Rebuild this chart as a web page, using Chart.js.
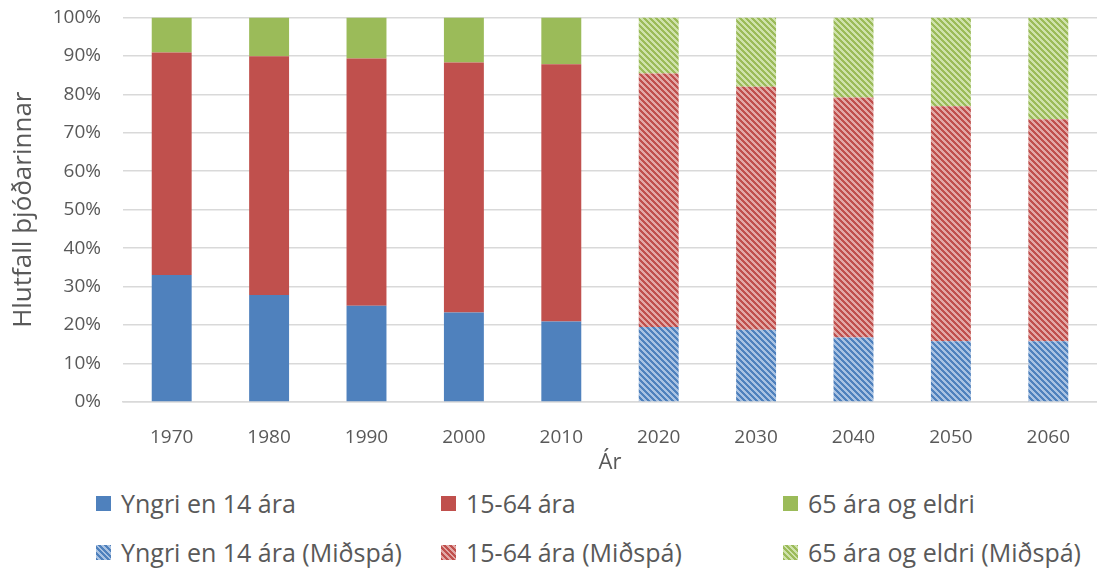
<!DOCTYPE html>
<html>
<head>
<meta charset="utf-8">
<script src="https://cdn.jsdelivr.net/npm/chart.js@4/dist/chart.umd.min.js"></script>
<style>
  body{margin:0;background:#fff;font-family:"Open Sans",sans-serif;}
  #wrap{position:relative;width:1097px;height:569px;overflow:hidden;}
  #chart{position:absolute;left:0;top:-16px;}
  .leg{position:absolute;display:flex;align-items:center;font-size:25px;color:#595959;white-space:nowrap;line-height:30px;}
  .leg span.box{display:inline-block;width:15px;height:15px;margin-right:10px;}
</style>
</head>
<body>
<div id="wrap">
  <canvas id="chart" width="1097" height="496"></canvas>
  <div id="legend"></div>
</div>
<script>
const years=["1970","1980","1990","2000","2010","2020","2030","2040","2050","2060"];
// historic values (%), null where projection
const young=[33.0,27.8,25.0,23.3,20.9,null,null,null,null,null];
const working=[57.9,62.1,64.3,65.0,66.9,null,null,null,null,null];
const old=[9.1,10.1,10.7,11.7,12.2,null,null,null,null,null];
// projection (Miðspá)
const youngP=[null,null,null,null,null,19.5,18.8,16.8,15.8,15.8];
const workingP=[null,null,null,null,null,65.9,63.2,62.4,61.1,57.7];
const oldP=[null,null,null,null,null,14.6,18.0,20.8,23.1,26.5];
const yTicks=["0%","10%","20%","30%","40%","50%","60%","70%","80%","90%","100%"];

const blue="#4f81bd", red="#c0504d", green="#9bbb59";
const blueL="#a9c2e2", redL="#e2a8a6", greenL="#cfe2ac";

function hatch(base,light){
    const p=6;
    const c=document.createElement("canvas");
    c.width=p;c.height=p;
    const g=c.getContext("2d");
    g.fillStyle=base;
    g.fillRect(0,0,p,p);
    g.fillStyle=light;
    for(let x=0;x<p;x++){
        for(let y=0;y<p;y++){
            if(((x-y)%p+p)%p<3) g.fillRect(x,y,1,1);
        }
    }
    return g.createPattern(c,"repeat");
}

const ctx=document.getElementById("chart").getContext("2d");
const series=[
    {label:"Yngri en 14 ára",data:young,backgroundColor:blue},
    {label:"15-64 ára",data:working,backgroundColor:red},
    {label:"65 ára og eldri",data:old,backgroundColor:green},
    {label:"Yngri en 14 ára (Miðspá)",data:youngP,backgroundColor:hatch(blue,blueL)},
    {label:"15-64 ára (Miðspá)",data:workingP,backgroundColor:hatch(red,redL)},
    {label:"65 ára og eldri (Miðspá)",data:oldP,backgroundColor:hatch(green,greenL)}
];

new Chart(ctx,{
    type:"bar",
    data:{
        labels:years,
        datasets:series.map(s=>({
            label:s.label,
            data:s.data,
            backgroundColor:s.backgroundColor,
            borderWidth:0,
            barPercentage:0.41,
            categoryPercentage:1.0,
            stack:"a"
        }))
    },
    options:{
        responsive:false,
        animation:false,
        layout:{padding:{top:7,right:0,left:0,bottom:0}},
        plugins:{legend:{display:false},tooltip:{enabled:false}},
        scales:{
            x:{
                stacked:true,
                grid:{display:false},
                border:{color:"#d9d9d9",width:1.5},
                ticks:{color:"#595959",font:{family:"Open Sans",size:19},padding:16},
                title:{display:true,text:"Ár",color:"#595959",font:{family:"Open Sans",size:22},padding:{top:5}},
                afterFit:function(scale){scale.height=78;}
            },
            y:{
                stacked:true,
                min:0,max:100,
                grid:{color:"#d9d9d9",lineWidth:1.5,drawTicks:false},
                border:{display:false},
                ticks:{
                    stepSize:10,color:"#595959",font:{family:"Open Sans",size:19},padding:22,
                    callback:function(v){return yTicks[Math.round(v/10)];}
                },
                title:{display:true,text:"Hlutfall þjóðarinnar",color:"#595959",font:{family:"Open Sans",size:26},padding:{top:8,bottom:0}},
                afterFit:function(scale){scale.width=123;}
            }
        }
    }
});

// legend in three columns, two rows
const legend=document.getElementById("legend");
const cols=[96,441,783];
const rows=[503,552];
series.forEach((s,i)=>{
    const el=document.createElement("div");
    el.className="leg";
    el.style.left=cols[i%3]+"px";
    el.style.top=(rows[Math.floor(i/3)]-15)+"px";
    const box=document.createElement("span");
    box.className="box";
    if(i<3){
        box.style.background=s.backgroundColor;
    }else{
        const base=[blue,red,green][i-3], light=[blueL,redL,greenL][i-3];
        box.style.background=`repeating-linear-gradient(45deg,${base} 0 2px,${light} 2px 4px)`;
    }
    el.appendChild(box);
    el.appendChild(document.createTextNode(s.label));
    legend.appendChild(el);
});
</script>
</body>
</html>
